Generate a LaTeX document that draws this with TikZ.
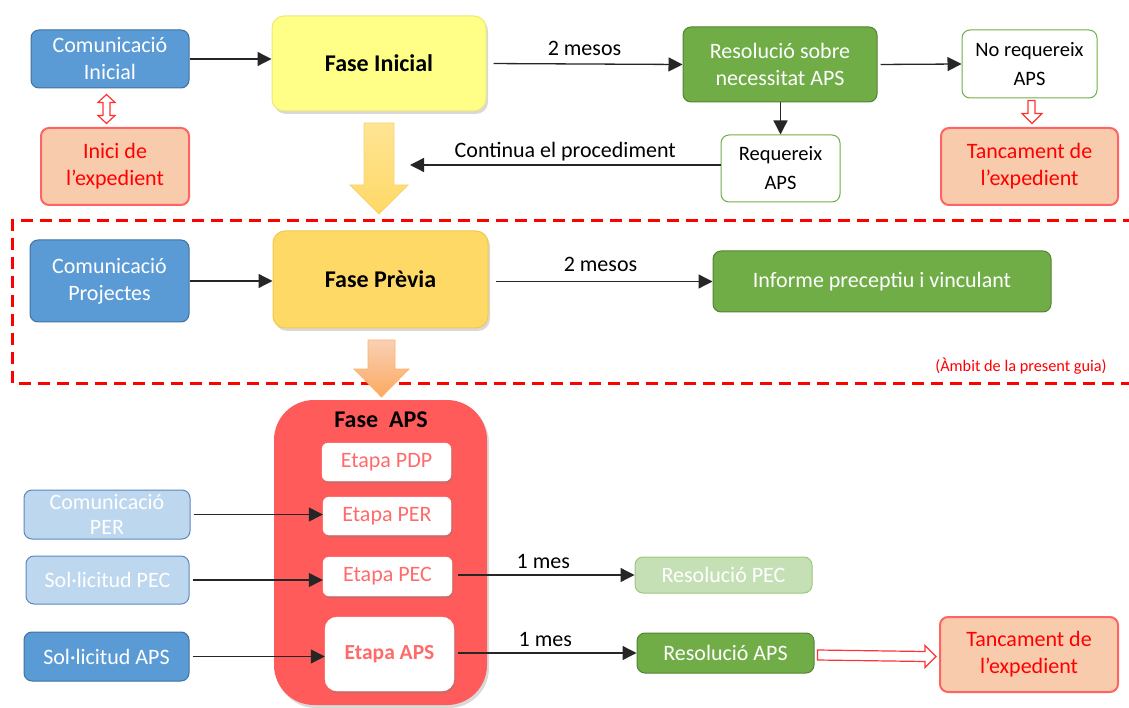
\documentclass[tikz,border=0pt]{standalone}
\usepackage{fontspec}
\setmainfont{Carlito}
\usetikzlibrary{arrows.meta,shadows,calc}
\definecolor{cblue}{HTML}{5B9BD5}
\definecolor{cbluedk}{HTML}{41719C}
\definecolor{clblue}{HTML}{BDD7EE}
\definecolor{clbluedk}{HTML}{5F86BD}
\definecolor{cgreen}{HTML}{70AD47}
\definecolor{cgreendk}{HTML}{548235}
\definecolor{clgreen}{HTML}{C5E0B4}
\definecolor{clgreendk}{HTML}{9CC77F}
\definecolor{cpeach}{HTML}{F8CBAD}
\definecolor{cpeachdk}{HTML}{FF6464}
\definecolor{cyel}{HTML}{FFFF88}
\definecolor{cyeldk}{HTML}{EDE77A}
\definecolor{cgold}{HTML}{FFD966}
\definecolor{cgolddk}{HTML}{F2C94C}
\definecolor{cred}{HTML}{FF5B5B}
\definecolor{cetext}{HTML}{FF6B6B}
\begin{document}
\begin{tikzpicture}[x=1pt,y=-1pt,
  every node/.style={align=center, inner sep=0pt, font=\fontsize{22}{27}\selectfont},
  box/.style={rounded corners=8pt, line width=1pt},
  bluebox/.style={box, fill=cblue, draw=cbluedk, text=white},
  lbluebox/.style={box, fill=clblue, draw=clbluedk, text=white},
  greenbox/.style={box, fill=cgreen, draw=cgreendk, text=white},
  lgreenbox/.style={box, fill=clgreen, draw=clgreendk, text=white},
  wgreenbox/.style={box, fill=white, draw=cgreen, text=black, font=\fontsize{20.5}{29}\selectfont},
  peachbox/.style={box, fill=cpeach, draw=cpeachdk, line width=2pt, text=red},
  fasebox/.style={rounded corners=12pt, line width=1pt, text=black, font=\bfseries\fontsize{24}{27}\selectfont,
     drop shadow={shadow xshift=2pt, shadow yshift=-3pt, opacity=0.3}},
  etapabox/.style={rounded corners=6pt, fill=white, draw=white, text=cetext,
     drop shadow={shadow xshift=1.5pt, shadow yshift=-2.5pt, opacity=0.35}},
  arr/.style={draw=black!85, line width=1.3pt, -{Triangle[length=14pt,width=14pt]}},
  lbl/.style={text=black, font=\fontsize{22}{27}\selectfont},
  hollow/.style={draw=red!80, fill=white, line width=1.2pt, line join=miter},
  dashframe/.style={draw=red, line width=3pt, dash pattern=on 12pt off 7pt}
]
\useasboundingbox (0,0) rectangle (1129,708);

% ---------- Fase Inicial row ----------
\node[bluebox, minimum width=158pt, minimum height=58pt] (ci) at (110,59) {Comunicació\\Inicial};
\node[peachbox, minimum width=148pt, minimum height=77pt] (inici) at (115,166.5) {Inici de\\l’expedient};
\node[fasebox, fill=cyel, draw=cyeldk, minimum width=214pt, minimum height=95pt] (fi) at (379,63.5) {Fase Inicial};
\node[greenbox, minimum width=194pt, minimum height=75pt] (res) at (780,64.5) {Resolució sobre\\necessitat APS};
\node[wgreenbox, minimum width=135pt, minimum height=68pt] (noreq) at (1029.5,64) {No requereix\\APS};
\node[peachbox, minimum width=177pt, minimum height=77pt] (tanc1) at (1029.5,166.5) {Tancament de\\l’expedient};
\node[wgreenbox, minimum width=119pt, minimum height=67pt] (req) at (780.5,168.5) {Requereix\\APS};

\draw[arr] (ci.east) -- (ci.east -| fi.west);
\draw[arr, shorten <=7pt] (fi.east) -- (res.west) node[lbl, midway, above=8pt] {2 mesos};
\draw[arr, shorten <=3pt] (res.east) -- (noreq.west);
\draw[arr] (res.south -| req.north) -- (req.north);
\coordinate (cont) at (410,165);
\draw[arr] (req.west |- cont) -- (cont) node[lbl, midway, above=3pt] {Continua el procediment};

% hollow double arrow between ci and inici
\draw[hollow] ($(ci.south)+(-3.5,6)$) -- ++(8.5,8) -- ++(-5,0) -- ++(0,13) -- ++(5,0)
   -- ++(-8.5,8) -- ++(-8.5,-8) -- ++(5,0) -- ++(0,-13) -- ++(-5,0) -- cycle;
% small hollow down arrow
\draw[hollow] ($(noreq.south)+(-1.5,2)$) -- ++(7,0) -- ++(0,13) -- ++(7,0) -- ++(-10,10)
   -- ++(-10,-10) -- ++(6,0) -- cycle;

% big yellow arrow
\draw[draw=cgolddk!80, line width=0.8pt, top color=cgold!70, bottom color=cgold]
  (364,123) -- (394,123) -- (394,185) -- (408,185) -- (379,214) -- (350,185) -- (364,185) -- cycle;

% ---------- dashed frame ----------
\draw[dashframe] (1135,221) -- (12,221) -- (12,383) -- (1135,383);

% ---------- Fase Previa row ----------
\node[bluebox, minimum width=159pt, minimum height=82pt] (cp) at (109.5,281) {Comunicació\\Projectes};
\node[fasebox, fill=cgold, draw=cgolddk, minimum width=215pt, minimum height=97pt] (fp) at (380.5,279.5) {Fase Prèvia};
\node[greenbox, minimum width=338pt, minimum height=61pt] (inf) at (882,281.5) {Informe preceptiu i vinculant};
\draw[arr] (cp.east) -- (cp.east -| fp.west);
\draw[arr, shorten <=7pt] (fp.east |- inf.west) -- (inf.west) node[lbl, midway, above=9pt] {2 mesos};
\node[text=red, font=\fontsize{16.3}{18}\selectfont] (ambit) at (1021,366) {(Àmbit de la present guia)};

% orange arrow
\draw[draw=orange!60, line width=0.8pt, top color=cpeach!90, bottom color=orange!45!cpeach]
  (368,340) -- (395,340) -- (395,369) -- (409,369) -- (381.5,397) -- (354,369) -- (368,369) -- cycle;

% ---------- Fase APS ----------
\node[fill=cred, rounded corners=40pt, minimum width=213pt, minimum height=305pt,
      drop shadow={shadow xshift=2pt, shadow yshift=-3pt, opacity=0.3}] (aps) at (380.5,552.5) {};
\node[font=\bfseries\fontsize{24}{27}\selectfont] (apst) at (381,420) {Fase~~APS};
\node[etapabox, minimum width=129pt, minimum height=38pt] (pdp) at (386.5,462) {Etapa PDP};
\node[etapabox, minimum width=128pt, minimum height=38pt] (per) at (387,516) {Etapa PER};
\node[etapabox, minimum width=129pt, minimum height=39pt] (pec) at (387.5,576.5) {Etapa PEC};
\node[etapabox, minimum width=129pt, minimum height=74pt, rounded corners=12pt, font=\bfseries\fontsize{21.5}{27}\selectfont] (eaps) at (389.5,654) {Etapa APS};

\node[lbluebox, minimum width=166pt, minimum height=49pt, font=\fontsize{22}{25}\selectfont] (cper) at (107,514.5) {Comunicació\\PER};
\node[lbluebox, minimum width=163pt, minimum height=48pt] (spec) at (107.5,580) {Sol·licitud PEC};
\node[bluebox, minimum width=165pt, minimum height=49pt] (saps) at (106.5,656.5) {Sol·licitud APS};

\node[lgreenbox, minimum width=177pt, minimum height=36pt] (rpec) at (723.5,575) {Resolució PEC};
\node[greenbox, minimum width=177pt, minimum height=40pt] (raps) at (725.5,653) {Resolució APS};
\node[peachbox, minimum width=178pt, minimum height=75pt] (tanc2) at (1029,654.5) {Tancament de\\l’expedient};

\draw[arr, shorten <=3pt] (cper.east) -- (cper.east -| per.west);
\draw[arr, shorten <=3pt] (spec.east) -- (spec.east -| pec.west);
\draw[arr, shorten <=3pt] (saps.east) -- (saps.east -| eaps.west);
\draw[arr, shorten <=6pt] (pec.east |- rpec.west) -- (rpec.west) node[lbl, midway, above=6pt] {1 mes};
\draw[arr, shorten <=4pt] (eaps.east |- raps.west) -- (raps.west) node[lbl, midway, above=6pt] {1 mes};

% hollow right arrow
\draw[hollow] ($(raps.east)+(3,-3)$) -- ($(tanc2.west)+(-14,-3)$) -- ++(0,-6) -- ($(tanc2.west)+(-3,2)$)
   -- ($(tanc2.west)+(-14,13)$) -- ++(0,-6) -- ($(raps.east)+(3,7)$) -- cycle;
\end{tikzpicture}
\end{document}
